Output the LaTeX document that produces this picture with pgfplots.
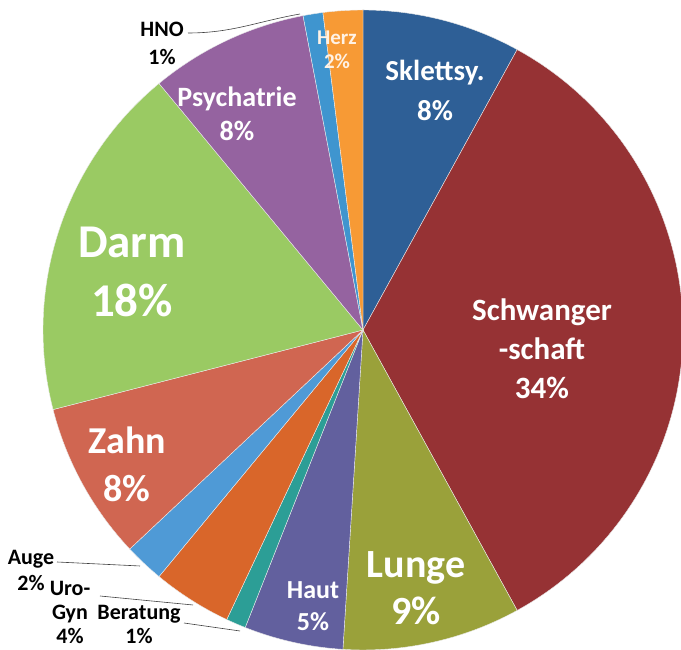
\documentclass[border=0pt]{standalone}
\usepackage{pgfplots}
\pgfplotsset{compat=1.18}
\usepackage{pgfplotstable}
\usepackage{fontspec}
\setmainfont{Carlito}

% slice colours, clockwise from 12 o'clock
\definecolor{sl0}{HTML}{2E5F96}
\definecolor{sl1}{HTML}{963234}
\definecolor{sl2}{HTML}{9AA13A}
\definecolor{sl3}{HTML}{62609E}
\definecolor{sl4}{HTML}{2C9E96}
\definecolor{sl5}{HTML}{D9662A}
\definecolor{sl6}{HTML}{4F9AD6}
\definecolor{sl7}{HTML}{D06651}
\definecolor{sl8}{HTML}{9ACA63}
\definecolor{sl9}{HTML}{9563A0}
\definecolor{sl10}{HTML}{3F95CF}
\definecolor{sl11}{HTML}{F79A35}

\pgfplotstableread{
name value
Sklettsy 8
Schwangerschaft 34
Lunge 9
Haut 5
Beratung 1
UroGyn 4
Auge 2
Zahn 8
Darm 18
Psychatrie 8
HNO 1
Herz 2
}\piedata

% start/end angle of every slice
\def\acc{0}%
\pgfplotsforeachungrouped \i in {0,...,11}{%
  \pgfplotstablegetelem{\i}{value}\of\piedata%
  \pgfmathsetmacro\sa{90-3.6*\acc}%
  \pgfmathsetmacro\acc{\acc+\pgfplotsretval}%
  \pgfmathsetmacro\ea{90-3.6*\acc}%
  \expandafter\xdef\csname sa\i\endcsname{\sa}%
  \expandafter\xdef\csname ea\i\endcsname{\ea}%
}

\newcommand\fs[2]{\fontsize{#1}{#2}\bfseries\selectfont}

\begin{document}
\begin{tikzpicture}
\begin{axis}[hide axis, scale only axis, width=681pt, height=650pt,
  xmin=0, xmax=681, ymin=0, ymax=650, enlargelimits=false, clip=false]
\coordinate (bl) at (rel axis cs:0,0);
\coordinate (tr) at (rel axis cs:1,1);

\pgfplotsinvokeforeach{0,...,11}{%
  \edef\temp{\noexpand\fill[sl#1, draw=white!85!gray, line width=0.4pt]
    (axis cs:363,320) -- ++(\csname sa#1\endcsname:320pt)
    arc[start angle=\csname sa#1\endcsname, end angle=\csname ea#1\endcsname, radius=320pt] -- cycle;}%
  \temp
}

% labels inside the slices
\node[text=white, align=center, font=\fs{29}{40}] at (axis cs:435,560) {Sklettsy.\\8\%};
\node[text=white, align=center, font=\fs{31}{39}] at (axis cs:542,301) {Schwanger\\-schaft\\34\%};
\node[text=white, align=center, font=\fs{40}{47}] at (axis cs:416,61.5) {Lunge\\9\%};
\node[text=white, align=center, font=\fs{26}{32}] at (axis cs:313,44) {Haut\\5\%};
\node[text=white, align=center, font=\fs{38}{48}] at (axis cs:127,186) {Zahn\\8\%};
\node[text=white, align=center, font=\fs{47}{59}] at (axis cs:132,378) {Darm\\18\%};
\node[text=white, align=center, font=\fs{28}{34}] at (axis cs:237,536) {Psychatrie\\8\%};
\node[text=white!90!orange, align=center, font=\fs{21}{24}] at (axis cs:337,600) {Herz\\2\%};

% labels outside with leader lines
\node[align=center, font=\fs{22}{28}] at (axis cs:162,607) {HNO\\1\%};
\node[align=center, font=\fs{22}{26}] at (axis cs:31,80) {Auge\\2\%};
\node[align=center, font=\fs{22}{24}] at (axis cs:70,38) {Uro-\\Gyn\\4\%};
\node[align=center, font=\fs{22}{24}] at (axis cs:139,26) {Beratung\\1\%};

\draw[black!75, line width=0.6pt] (axis cs:188,617) to[out=0, in=190] (axis cs:300,636);
\draw[black!75, line width=0.6pt] (axis cs:57,88) -- (axis cs:140,84);
\draw[black!75, line width=0.6pt] (axis cs:100,54) -- (axis cs:193,45);
\draw[black!75, line width=0.6pt] (axis cs:184,27) -- (axis cs:240,19);
\end{axis}
\pgfresetboundingbox
\path (bl) rectangle (tr);
\end{tikzpicture}
\end{document}
